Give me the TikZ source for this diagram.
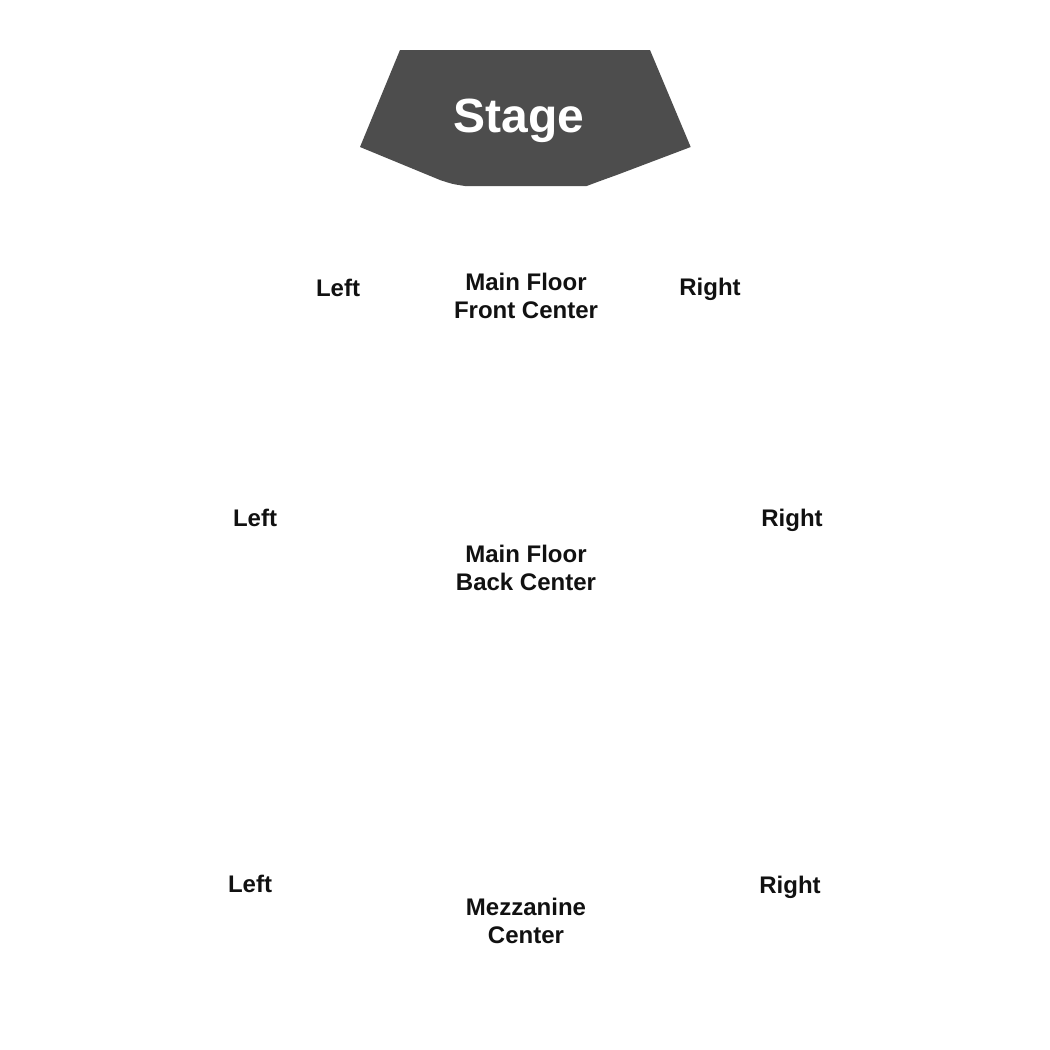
\documentclass[tikz,border=0pt]{standalone}
\usepackage{fontspec}
\setmainfont{Liberation Sans}
\definecolor{stagegray}{HTML}{4D4D4D}
\definecolor{labelink}{HTML}{111111}
\begin{document}
\begin{tikzpicture}[x=1pt,y=-1pt,
  lbl/.style={anchor=base,inner sep=0pt,align=center,text=labelink,
    font=\fontsize{24}{28}\selectfont\bfseries},
  stagelbl/.style={anchor=base,inner sep=0pt,text=white,
    font=\fontsize{48}{50}\selectfont\bfseries}]
\useasboundingbox (0,0) rectangle (1050,1050);
\fill[stagegray] (400,50) -- (650,50) -- (690.7,147) -- (616.7,175)
  .. controls (600,181) .. (586.7,186) -- (465,186)
  .. controls (452,184) .. (440,180) -- (360,147) -- cycle;
\node[stagelbl] (stage) at (519,132) {Stage};
\node[lbl] (fl) at (338,296.5) {Left};
\node[lbl] (fc) at (526,318.5) {Main Floor\\Front Center};
\node[lbl] (fr) at (710,295.5) {Right};
\node[lbl] (bl) at (255,526.5) {Left};
\node[lbl] (bc) at (526,590.5) {Main Floor\\Back Center};
\node[lbl] (br) at (792,526.5) {Right};
\node[lbl] (ml) at (250,892.5) {Left};
\node[lbl] (mc) at (526,943.5) {Mezzanine\\Center};
\node[lbl] (mr) at (790,893.5) {Right};
\end{tikzpicture}
\end{document}
